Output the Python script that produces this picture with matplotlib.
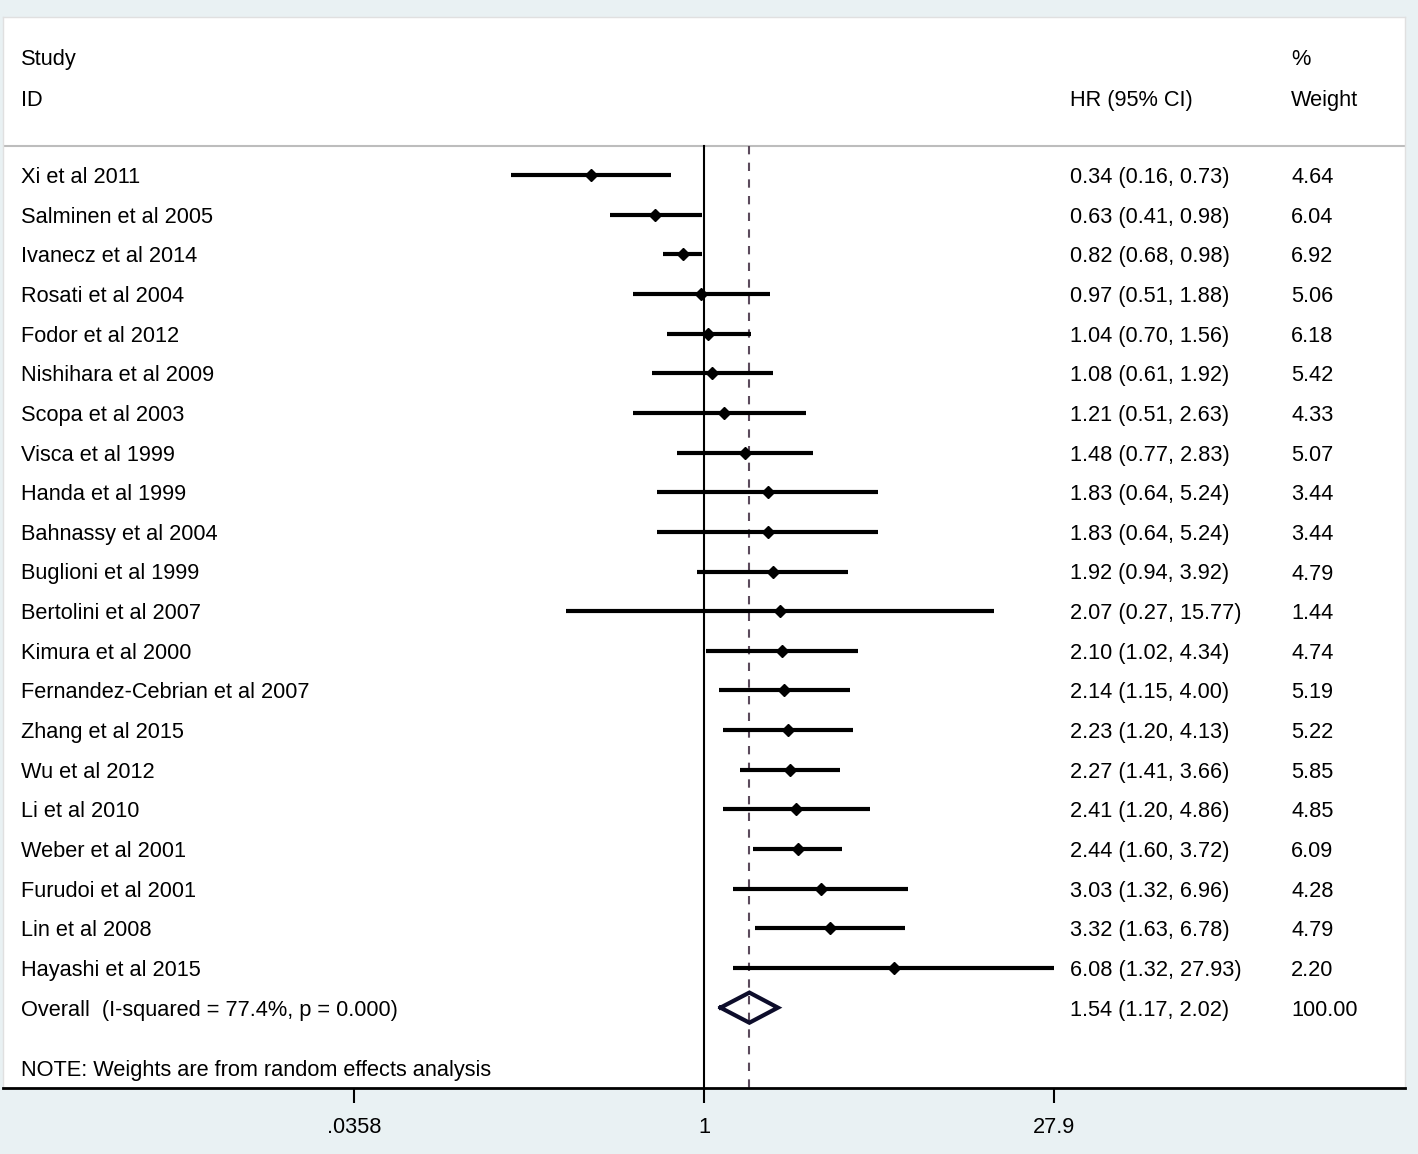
import numpy as np
import matplotlib
matplotlib.use("Agg")
import matplotlib.pyplot as plt
from matplotlib.ticker import FixedLocator, FixedFormatter, NullLocator

studies = ["Xi et al 2011", "Salminen et al 2005", "Ivanecz et al 2014", "Rosati et al 2004",
           "Fodor et al 2012", "Nishihara et al 2009", "Scopa et al 2003", "Visca et al 1999",
           "Handa et al 1999", "Bahnassy et al 2004", "Buglioni et al 1999", "Bertolini et al 2007",
           "Kimura et al 2000", "Fernandez-Cebrian et al 2007", "Zhang et al 2015", "Wu et al 2012",
           "Li et al 2010", "Weber et al 2001", "Furudoi et al 2001", "Lin et al 2008",
           "Hayashi et al 2015"]
hr = [0.34, 0.63, 0.82, 0.97, 1.04, 1.08, 1.21, 1.48, 1.83, 1.83, 1.92, 2.07, 2.10, 2.14, 2.23,
      2.27, 2.41, 2.44, 3.03, 3.32, 6.08]
lo = [0.16, 0.41, 0.68, 0.51, 0.70, 0.61, 0.51, 0.77, 0.64, 0.64, 0.94, 0.27, 1.02, 1.15, 1.20,
      1.41, 1.20, 1.60, 1.32, 1.63, 1.32]
hi = [0.73, 0.98, 0.98, 1.88, 1.56, 1.92, 2.63, 2.83, 5.24, 5.24, 3.92, 15.77, 4.34, 4.00, 4.13,
      3.66, 4.86, 3.72, 6.96, 6.78, 27.93]
weights = [4.64, 6.04, 6.92, 5.06, 6.18, 5.42, 4.33, 5.07, 3.44, 3.44, 4.79, 1.44, 4.74, 5.19,
           5.22, 5.85, 4.85, 6.09, 4.28, 4.79, 2.20]
overall_label = "Overall  (I-squared = 77.4%, p = 0.000)"
overall_hr, overall_lo, overall_hi, overall_w = 1.54, 1.17, 2.02, 100.00
tick_vals = [0.0358, 1, 27.9]
tick_labels = [".0358", "1", "27.9"]
note = "NOTE: Weights are from random effects analysis"

W, H = 1418, 1154
fig = plt.figure(figsize=(W / 100, H / 100), dpi=100, facecolor="#e9f1f3")
plt.rcParams['font.family'] = ['Liberation Sans', 'DejaVu Sans']

px_l, px_r, px_t, px_b = 3, 1405, 17, 1088
ax = fig.add_axes([px_l / W, (H - px_b) / H, (px_r - px_l) / W, (px_b - px_t) / H])
ax.set_facecolor("white")
ax.set_xscale("log")
half = 6.67
ax.set_xlim(np.exp(-half), np.exp(half))
row0, dy = 175, 39.65
ax.set_ylim((px_b - row0) / dy, (px_t - row0) / dy)

fs = 15.7
toff = 8 / dy  # baseline sits below the row centre
n = len(studies)
y = np.arange(n)
sep_y = (146 - row0) / dy
ybot = (px_b - row0) / dy

# reference lines
ax.plot([1, 1], [sep_y, ybot], color="black", lw=1.5, zorder=2)
ax.plot([overall_hr, overall_hr], [sep_y, ybot], color="#5b4a5c", lw=1.5,
        dashes=(4, 4), zorder=2)
ax.axhline(sep_y, color="#bdbdbd", lw=1.5, zorder=1)

# CIs and points
ax.hlines(y, lo, hi, color="black", lw=3, zorder=3)
ax.plot(hr, y, linestyle="none", marker="D", ms=6.5, color="black", zorder=4)

# overall diamond
yo = n
dh = 0.38
ax.plot([overall_lo, overall_hr, overall_hi, overall_hr, overall_lo],
        [yo, yo - dh, yo, yo + dh, yo], color="#0d0d2b", lw=3, zorder=4,
        solid_joinstyle="miter")

# text
tx = ax.get_yaxis_transform()
x_lab = (21 - px_l) / (px_r - px_l)
x_hr = (1070 - px_l) / (px_r - px_l)
x_w = (1291 - px_l) / (px_r - px_l)


def put(x, yy, s):
    ax.text(x, yy + toff, s, transform=tx, fontsize=fs, va="baseline", ha="left")


for i in range(n):
    put(x_lab, i, studies[i])
    put(x_hr, i, f"{hr[i]:.2f} ({lo[i]:.2f}, {hi[i]:.2f})")
    put(x_w, i, f"{weights[i]:.2f}")
put(x_lab, yo, overall_label)
put(x_hr, yo, f"{overall_hr:.2f} ({overall_lo:.2f}, {overall_hi:.2f})")
put(x_w, yo, f"{overall_w:.2f}")
put(x_lab, (1068 - row0) / dy, note)

# headers
y1 = (57 - row0) / dy
y2 = (98 - row0) / dy
put(x_lab, y1, "Study")
put(x_lab, y2, "ID")
put(x_hr, y2, "HR (95% CI)")
put(x_w, y1, "%")
put(x_w, y2, "Weight")

# axes styling
for s in ["top", "left", "right"]:
    ax.spines[s].set_color("#e0e0e0")
    ax.spines[s].set_linewidth(1)
ax.spines["bottom"].set_color("black")
ax.spines["bottom"].set_linewidth(2)
ax.yaxis.set_major_locator(NullLocator())
ax.xaxis.set_major_locator(FixedLocator(tick_vals))
ax.xaxis.set_major_formatter(FixedFormatter(tick_labels))
ax.xaxis.set_minor_locator(NullLocator())
ax.tick_params(axis="x", length=11, width=1.5, pad=10, labelsize=fs, color="black")

fig.savefig("out.png", dpi=100, facecolor=fig.get_facecolor())
